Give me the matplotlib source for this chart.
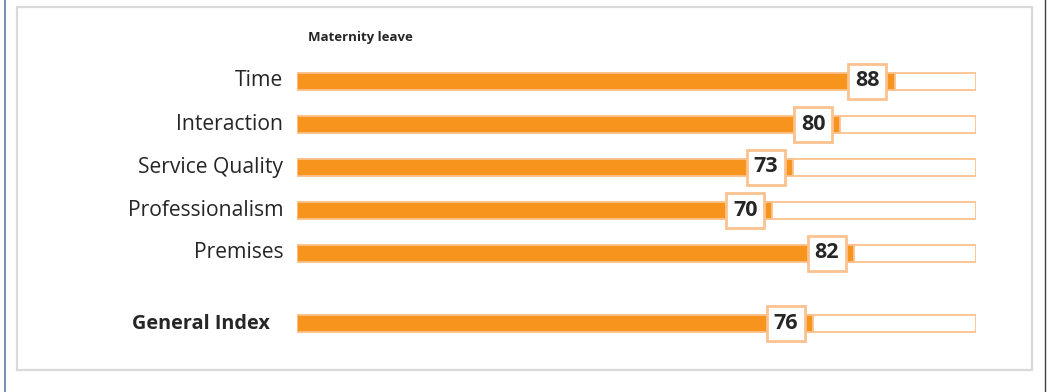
import matplotlib
matplotlib.use("Agg")
import matplotlib.pyplot as plt
from matplotlib.patches import Rectangle
from matplotlib.lines import Line2D
from matplotlib.transforms import Affine2D, ScaledTranslation

categories = ["Time", "Interaction", "Service Quality", "Professionalism", "Premises", "General Index"]
values = [88, 80, 73, 70, 82, 76]
positions = [0, 1, 2, 3, 4, 5.65]
title = "Maternity leave"
max_value = 100

ORANGE = "#F7941E"
LIGHT = "#FBC28F"
TEXT = "#262626"

plt.rcParams['font.family'] = ['Open Sans', 'DejaVu Sans']

W, H = 1048, 392
fig = plt.figure(figsize=(W / 100, H / 100), dpi=100)

# outer frame lines
fig.add_artist(Line2D([4.5 / W, 4.5 / W], [0, 1], color="#5B7FA6", lw=1.2))
fig.add_artist(Line2D([1044.5 / W, 1044.5 / W], [0, 1], color="#404040", lw=1.0))
# inner panel
fig.add_artist(Rectangle((17 / W, (H - 370) / H), (1032 - 17) / W, (370 - 7) / H,
                         fill=False, edgecolor="#D9D9D9", lw=1.6))

top_px, bot_px = 60, 345
row_px = 43
first_px = 81
ymin = (top_px - first_px) / row_px
ymax = (bot_px - first_px) / row_px
ax = fig.add_axes([297 / W, (H - bot_px) / H, (976 - 297) / W, (bot_px - top_px) / H])
ax.set_xlim(0, max_value)
ax.set_ylim(ymax, ymin)
ax.axis("off")

bh = 17 / row_px
ax.barh(positions, [max_value] * len(values), height=bh, color="white",
        edgecolor=LIGHT, lw=1.3, zorder=1)
ax.barh(positions, values, height=bh, color=ORANGE, edgecolor=LIGHT, lw=1.3, zorder=2)

box_w, box_h = 38, 35  # pixels
for cat, val, pos in zip(categories, values, positions):
    is_general = cat == "General Index"
    ax.text(-4.0 if is_general else -2.0, pos, cat, ha="right", va="center",
            fontsize=14.3 if is_general else 15.2, color=TEXT,
            fontweight="bold" if is_general else "normal")
    cx = val - 4.0
    tr = Affine2D().translate(-box_w / 2, -box_h / 2) + ScaledTranslation(cx, pos, ax.transData)
    ax.add_patch(Rectangle((0, 0), box_w, box_h, transform=tr, facecolor="white",
                           edgecolor=LIGHT, lw=2.0, zorder=3, clip_on=False))
    ax.text(cx, pos, str(val), ha="center", va="center", fontsize=15.5,
            fontweight="bold", color=TEXT, zorder=4)

fig.text(308 / W, 1 - 38 / H, title, ha="left", va="center", fontsize=9.5,
         fontweight="bold", color=TEXT)

fig.savefig("out.png", dpi=100)
